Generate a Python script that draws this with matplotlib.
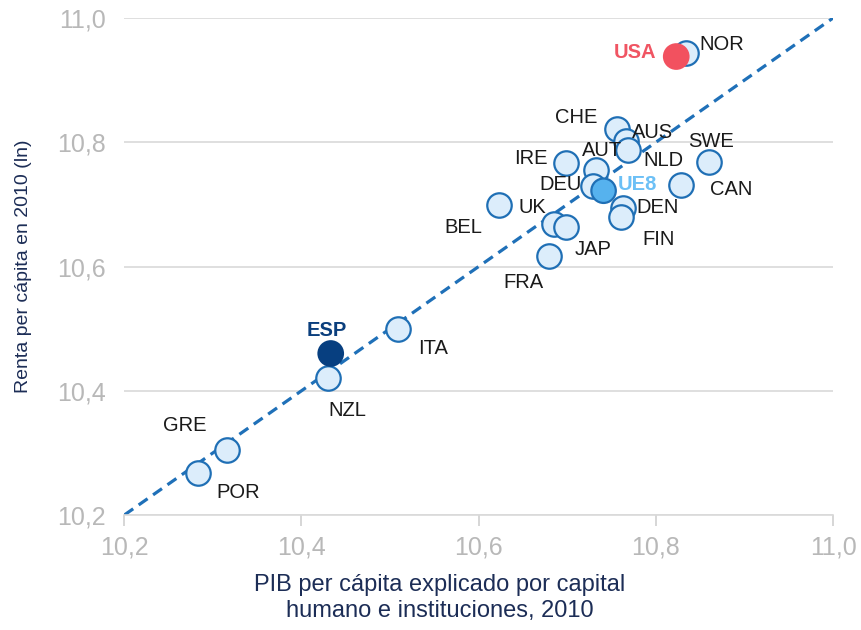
import matplotlib.pyplot as plt

plt.rcParams['font.family'] = ['Liberation Sans', 'DejaVu Sans']

countries = ['NOR', 'CHE', 'AUS', 'NLD', 'IRE', 'AUT', 'DEU', 'SWE', 'CAN', 'UK',
             'DEN', 'FIN', 'BEL', 'JAP', 'FRA', 'NZL', 'ITA', 'GRE', 'POR']
pib = [10.834, 10.756, 10.766, 10.768, 10.699, 10.732, 10.729, 10.860, 10.828, 10.623,
       10.763, 10.761, 10.685, 10.699, 10.679, 10.430, 10.509, 10.316, 10.283]
renta = [10.943, 10.822, 10.802, 10.787, 10.766, 10.755, 10.730, 10.769, 10.731, 10.699,
         10.694, 10.680, 10.669, 10.664, 10.617, 10.421, 10.500, 10.304, 10.267]
# label offsets in pixels (dx, dy)
offsets = [(36, 9), (-41, 11), (27, 9), (36, -10), (-35, 5), (6, 20), (-32, 1), (2, 20),
           (51, -4), (33, -2), (34, 1), (37, -23), (-91, -4), (27, -23), (-25, -27),
           (19, -33), (35, -20), (-42, 25), (40, -19)]

special = ['USA', 'UE8', 'ESP']
special_pib = [10.823, 10.741, 10.433]
special_renta = [10.938, 10.722, 10.460]
special_fill = ['#f2515f', '#56b2ee', '#073f80']
special_edge = ['#f2515f', '#1f6fb5', '#073f80']
special_text = ['#f05563', '#6cc0f6', '#0b3f7d']
special_off = [(-41, 4), (34, 6), (-4, 23)]

line_x = [10.2, 11.0]

fig = plt.figure(figsize=(8.62, 6.3), dpi=100)
ax = fig.add_axes([0.1442, 0.1825, 0.8222, 0.7889])

ax.plot(line_x, line_x, color='#1f70b8', lw=2.3, linestyle=(0, (3.4, 2.1)), zorder=2)

ax.scatter(pib, renta, s=310, facecolor='#dcedfb', edgecolor='#1f6fb5', linewidth=1.6, zorder=3)
for name, x, y, (dx, dy) in zip(countries, pib, renta, offsets):
    ax.annotate(name, (x, y), xytext=(dx, dy), textcoords='offset pixels',
                ha='center', va='center', fontsize=14.5, color='#1a1a1a', zorder=5)

ax.scatter(special_pib, special_renta, s=310, facecolor=special_fill, edgecolor=special_edge,
           linewidth=1.6, zorder=4)
for name, x, y, c, (dx, dy) in zip(special, special_pib, special_renta, special_text, special_off):
    ax.annotate(name, (x, y), xytext=(dx, dy), textcoords='offset pixels',
                ha='center', va='center', fontsize=14.5, color=c, fontweight='bold', zorder=5)

ax.set_xlim(10.2, 11.0)
ax.set_ylim(10.2, 11.0)
ticks = [10.2, 10.4, 10.6, 10.8, 11.0]
tick_labels = ['10,2', '10,4', '10,6', '10,8', '11,0']
ax.set_xticks(ticks)
ax.set_xticklabels(tick_labels)
ax.set_yticks(ticks)
ax.set_yticklabels(tick_labels)

ax.grid(axis='y', color='#d9d9d9', lw=1.2)
ax.set_axisbelow(True)
for s in ['top', 'right', 'left']:
    ax.spines[s].set_visible(False)
ax.spines['bottom'].set_color('#d9d9d9')
ax.spines['bottom'].set_linewidth(1.2)
ax.tick_params(axis='x', colors='#d0d0d0', length=8, width=1.2, pad=7, labelsize=18,
               labelcolor='#b8b8b8')
ax.tick_params(axis='y', length=0, pad=13, labelsize=18, labelcolor='#b8b8b8')

fig.text(24 / 862, 1 - 266 / 630, 'Renta per cápita en 2010 (ln)', rotation=90,
         ha='center', va='center', fontsize=14, color='#1c2d56')
fig.text(440 / 862, 1 - 598 / 630, 'PIB per cápita explicado por capital\nhumano e instituciones, 2010',
         ha='center', va='center', fontsize=17, color='#1c2d56', linespacing=1.27)

fig.savefig('out.png', dpi=100)
